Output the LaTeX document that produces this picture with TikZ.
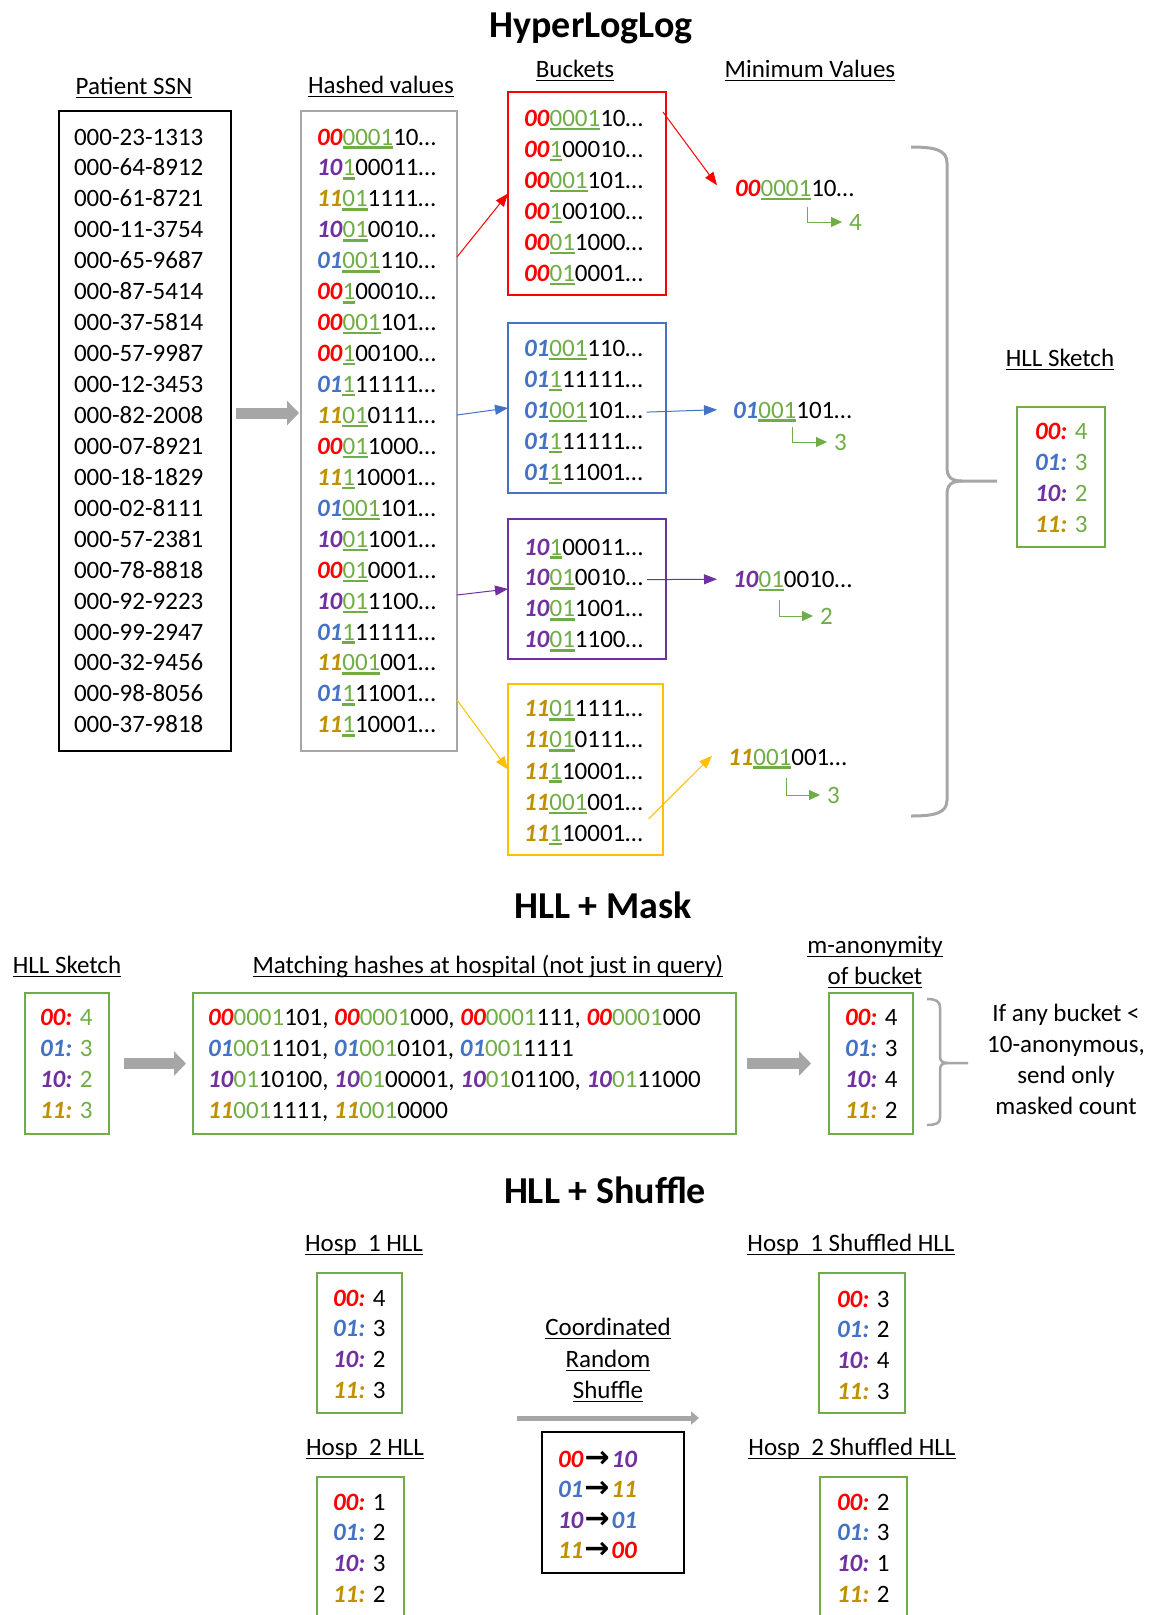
\documentclass[tikz,border=0pt]{standalone}
\usepackage{fontspec}
\setmainfont{Carlito}
\newfontfamily\symfont{DejaVu Sans}
\usetikzlibrary{arrows.meta,fit}

\definecolor{cR}{HTML}{FF0000}
\definecolor{cB}{HTML}{4472C4}
\definecolor{cP}{HTML}{7030A0}
\definecolor{cY}{HTML}{BF9000}
\definecolor{cG}{HTML}{70AD47}
\definecolor{cYbox}{HTML}{FFC000}
\definecolor{cGr}{HTML}{A6A6A6}

\newsavebox\ulbox
% underline: colour, rule thickness, rule depth, text
\newcommand\ulc[4]{\sbox\ulbox{#4}\rlap{\color{#1}\rule[-#3]{\wd\ulbox}{#2}}\usebox\ulbox}
\newcommand\hd[1]{\ulc{black}{1.6pt}{4.4pt}{#1}}
\newcommand\bits[2]{\textcolor{#1}{\textbf{\textit{#2}}}}
% hashed value: bucket colour, bucket bits, leading-zero run, rest
\newcommand\hval[4]{\bits{#1}{#2}\ulc{cG}{2.4pt}{3.8pt}{\textcolor{cG}{#3}}#4\ldots}
\newcommand\mval[4]{\bits{#1}{#2}\textcolor{cG}{#3}#4}
\newcommand\skrow[4]{\bits{#1}{#2:} \textcolor{#3}{#4}}
\newcommand\maprow[4]{\bits{#1}{#2}\kern1pt{\symfont\bfseries\fontsize{30}{30}\selectfont →}\kern2pt\bits{#3}{#4}}

\begin{document}
\begin{tikzpicture}[x=1pt,y=-1pt,
  every node/.style={font=\fontsize{25}{30}\selectfont, inner sep=0pt, outer sep=0pt},
  ttl/.style={anchor=base, font=\fontsize{38}{44}\selectfont\bfseries},
  hdr/.style={anchor=base},
  row/.style={anchor=base west},
  frame/.style={draw=#1, line width=2pt},
  arr/.style={draw=#1, line width=1pt, -{Triangle[length=13pt,width=10pt]}},
  garr/.style={draw=cG, line width=1pt, -{Triangle[length=11pt,width=10pt]}},
  blk/.style={draw=cGr, line width=11pt, -{Triangle[length=12pt,width=24pt]}},
  brc/.style={draw=cGr, line width=3pt},
  num/.style={anchor=west, inner xsep=7pt, text=cG}]

\useasboundingbox (0,0) rectangle (1150,1615);
\fill[white] (0,0) rectangle (1150,1615);

% ---------------- HyperLogLog ----------------
\node[ttl] (t1) at (591,37) {HyperLogLog};

\node[hdr] (hSSN) at (134,94) {\hd{Patient SSN}};
\node[hdr] (hHash) at (381,93) {\hd{Hashed values}};
\node[hdr] (hBk) at (575,77) {\hd{Buckets}};
\node[hdr] (hMin) at (810,77) {\hd{Minimum Values}};

\node[frame=black, fit={(59,111) (231,751)}] (ssn) {};
\foreach \s [count=\i from 0] in {000-23-1313,000-64-8912,000-61-8721,000-11-3754,
  000-65-9687,000-87-5414,000-37-5814,000-57-9987,000-12-3453,000-82-2008,
  000-07-8921,000-18-1829,000-02-8111,000-57-2381,000-78-8818,000-92-9223,
  000-99-2947,000-32-9456,000-98-8056,000-37-9818}
  \node[row] (s\i) at (74,{145+30.94*\i}) {\s};

\node[draw=cGr, line width=2.5pt, fit={(301,111) (457,751)}] (hash) {};
\foreach \cl/\pf/\gb/\rs [count=\i from 0] in {cR/00/0001/10, cP/10/1/00011,
  cY/11/01/1111, cP/10/01/0010, cB/01/001/110, cR/00/1/00010, cR/00/001/101,
  cR/00/1/00100, cB/01/1/11111, cY/11/01/0111, cR/00/01/1000, cY/11/1/10001,
  cB/01/001/101, cP/10/01/1001, cR/00/01/0001, cP/10/01/1100, cB/01/1/11111,
  cY/11/001/001, cB/01/1/11001, cY/11/1/10001}
  \node[row] (hv\i) at (317,{145+30.94*\i}) {\hval{\cl}{\pf}{\gb}{\rs}};

\draw[blk] ([xshift=5pt,yshift=18pt]ssn.east) -- ([xshift=-2pt,yshift=18pt]hash.west);

% buckets
\node[frame=cR, fit={(508,92) (666,295)}] (bR) {};
\foreach \pf/\gb/\rs [count=\i from 0] in {00/0001/10, 00/1/00010, 00/001/101,
  00/1/00100, 00/01/1000, 00/01/0001}
  \node[row] (br\i) at (524,{126.5+30.94*\i}) {\hval{cR}{\pf}{\gb}{\rs}};

\node[frame=cB, fit={(508,323) (666,493)}] (bB) {};
\foreach \pf/\gb/\rs [count=\i from 0] in {01/001/110, 01/1/11111, 01/001/101,
  01/1/11111, 01/1/11001}
  \node[row] (bb\i) at (524,{356.5+30.94*\i}) {\hval{cB}{\pf}{\gb}{\rs}};

\node[frame=cP, fit={(508,519) (666,659)}] (bP) {};
\foreach \pf/\gb/\rs [count=\i from 0] in {10/1/00011, 10/01/0010, 10/01/1001,
  10/01/1100}
  \node[row] (bp\i) at (524,{555+30.94*\i}) {\hval{cP}{\pf}{\gb}{\rs}};

\node[frame=cYbox, fit={(508,684) (663,855)}] (bY) {};
\foreach \pf/\gb/\rs [count=\i from 0] in {11/01/1111, 11/01/0111, 11/1/10001,
  11/001/001, 11/1/10001}
  \node[row] (by\i) at (524,{716.8+31.1*\i}) {\hval{cY}{\pf}{\gb}{\rs}};

\coordinate (aR) at (457,257);
\coordinate (aB) at (457,415);
\coordinate (aP) at (457,595);
\coordinate (aY) at (457,700);
\draw[arr=cR] (aR) -- (bR.west);
\draw[arr=cB] (aB) -- (bB.west);
\draw[arr=cP] (aP) -- (bP.west);
\draw[arr=cYbox] (aY) -- (bY.west);

% minimum values
\node[row] (mR) at (735,196.5) {\hval{cR}{00}{0001}{10}};
\node[row] (mB) at (733,418) {\hval{cB}{01}{001}{101}};
\node[row] (mP) at (733,587.5) {\hval{cP}{10}{01}{0010}};
\node[row] (mY) at (728,765) {\hval{cY}{11}{001}{001}};

\draw[arr=cR] ([xshift=-3pt,yshift=-20pt]bR.north east) -- ([xshift=-18pt,yshift=5pt]mR.west);
\draw[arr=cB] ([xshift=4pt]bb2.east) -- ([xshift=-16pt,yshift=2pt]mB.west);
\draw[arr=cP] ([xshift=4pt]bp1.east) -- ([xshift=-16pt,yshift=2pt]mP.west);
\draw[arr=cYbox] ([xshift=6pt,yshift=-15pt]by3.east) -- ([xshift=-16pt,yshift=3pt]mY.west);

\node[num] (nR) at (842,222) {4};
\node[num] (nB) at (827,442) {3};
\node[num] (nP) at (813,616) {2};
\node[num] (nY) at (820,795) {3};
\coordinate (lR) at (807,207);
\coordinate (lB) at (792,427);
\coordinate (lP) at (779,600);
\coordinate (lY) at (786,778);
\draw[garr] (lR) |- (nR.west);
\draw[garr] (lB) |- (nB.west);
\draw[garr] (lP) |- (nP.west);
\draw[garr] (lY) |- (nY.west);

% brace gathering the minimum values
\draw[brc] (911,147) .. controls (935,147) and (947,150) .. (947,163) -- (947,467)
  .. controls (947,476) and (950,481) .. (962,481) -- (997,481);
\draw[brc] (962,481) .. controls (950,481) and (947,486) .. (947,495) -- (947,800)
  .. controls (947,813) and (935,816) .. (911,816);

\node[hdr] (hSk) at (1060,366) {\hd{HLL Sketch}};
\node[frame=cG, fit={(1017,407) (1105,547)}] (sk) {};
\foreach \cl/\pf/\v [count=\i from 0] in {cR/00/4, cB/01/3, cP/10/2, cY/11/3}
  \node[row] (sk\i) at (1035,{439.5+30.94*\i}) {\skrow{\cl}{\pf}{cG}{\v}};

% ---------------- HLL + Mask ----------------
\node[ttl] (t2) at (603,918) {HLL + Mask};

\node[hdr] (hSk2) at (67,973) {\hd{HLL Sketch}};
\node[hdr] (hMatch) at (488,973) {\hd{Matching hashes at hospital (not just in query)}};
\node[hdr] (hMa) at (875,953) {\hd{m-anonymity}};
\node[hdr] (hMb) at (875,984) {\hd{of bucket}};

\node[frame=cG, fit={(25,993) (109,1134)}] (skm) {};
\foreach \cl/\pf/\v [count=\i from 0] in {cR/00/4, cB/01/3, cP/10/2, cY/11/3}
  \node[row] (skm\i) at (40,{1025.5+30.94*\i}) {\skrow{\cl}{\pf}{cG}{\v}};

\node[frame=cG, fit={(193,993) (736,1134)}] (mk) {};
\node[row] (mk0) at (208,1025.5) {\mval{cR}{00}{0001}{101}, \mval{cR}{00}{0001}{000}, \mval{cR}{00}{0001}{111}, \mval{cR}{00}{0001}{000}};
\node[row] (mk1) at (208,1056.4) {\mval{cB}{01}{001}{1101}, \mval{cB}{01}{001}{0101}, \mval{cB}{01}{001}{1111}};
\node[row] (mk2) at (208,1087.4) {\mval{cP}{10}{01}{10100}, \mval{cP}{10}{01}{00001}, \mval{cP}{10}{01}{01100}, \mval{cP}{10}{01}{11000}};
\node[row] (mk3) at (208,1118.3) {\mval{cY}{11}{001}{1111}, \mval{cY}{11}{001}{0000}};

\node[frame=cG, fit={(829,993) (913,1134)}] (ma) {};
\foreach \cl/\pf/\v [count=\i from 0] in {cR/00/4, cB/01/3, cP/10/4, cY/11/2}
  \node[row] (ma\i) at (845,{1025.5+30.94*\i}) {\skrow{\cl}{\pf}{black}{\v}};

\draw[blk] ([xshift=15pt]skm.east) -- ([xshift=-7pt]mk.west);
\draw[blk] ([xshift=11pt]mk.east) -- ([xshift=-18pt]ma.west);

\draw[brc, line width=2.5pt] (927,999) .. controls (936,999) and (940,1001) .. (940,1008) -- (940,1056)
  .. controls (940,1061) and (942,1063) .. (948,1063) -- (968,1063);
\draw[brc, line width=2.5pt] (948,1063) .. controls (942,1063) and (940,1065) .. (940,1070) -- (940,1118)
  .. controls (940,1123) and (936,1125) .. (927,1125);

\node[hdr] (q1) at (1066,1021) {If any bucket <};
\node[hdr] (q2) at (1066,1052) {10-anonymous,};
\node[hdr] (q3) at (1066,1083) {send only};
\node[hdr] (q4) at (1066,1114) {masked count};

% ---------------- HLL + Shuffle ----------------
\node[ttl] (t3) at (605,1203) {HLL + Shuffle};

\node[hdr] (hH1) at (364,1251) {\hd{Hosp\ \ 1 HLL}};
\node[hdr] (hH2) at (365,1455) {\hd{Hosp\ \ 2 HLL}};
\node[hdr] (hS1) at (851,1251) {\hd{Hosp\ \ 1 Shuffled HLL}};
\node[hdr] (hS2) at (852,1455) {\hd{Hosp\ \ 2 Shuffled HLL}};

\node[frame=cG, fit={(317,1273) (402,1413)}] (h1) {};
\foreach \cl/\pf/\v [count=\i from 0] in {cR/00/4, cB/01/3, cP/10/2, cY/11/3}
  \node[row] (h1r\i) at (333,{1306+30.94*\i}) {\skrow{\cl}{\pf}{black}{\v}};

\node[frame=cG, fit={(317,1477) (404,1640)}] (h2) {};
\foreach \cl/\pf/\v [count=\i from 0] in {cR/00/1, cB/01/2, cP/10/3, cY/11/2}
  \node[row] (h2r\i) at (333,{1510+30.94*\i}) {\skrow{\cl}{\pf}{black}{\v}};

\node[frame=cG, fit={(819,1273) (905,1413)}] (s1) {};
\foreach \cl/\pf/\v [count=\i from 0] in {cR/00/3, cB/01/2, cP/10/4, cY/11/3}
  \node[row] (s1r\i) at (837,{1307+30.94*\i}) {\skrow{\cl}{\pf}{black}{\v}};

\node[frame=cG, fit={(820,1477) (907,1640)}] (s2) {};
\foreach \cl/\pf/\v [count=\i from 0] in {cR/00/2, cB/01/3, cP/10/1, cY/11/2}
  \node[row] (s2r\i) at (837,{1510+30.94*\i}) {\skrow{\cl}{\pf}{black}{\v}};

\node[hdr] (c1) at (608,1335) {\hd{Coordinated}};
\node[hdr] (c2) at (608,1367) {\hd{Random}};
\node[hdr] (c3) at (608,1398) {\hd{Shuffle}};

\coordinate (shA) at (517,1418);
\coordinate (shB) at (699,1418);
\draw[draw=cGr, line width=5pt, -{Triangle[length=8pt,width=13pt]}] (shA) -- (shB);

\node[frame=black, fit={(542,1432) (684,1573)}] (sm) {};
\node[row] (sm0) at (558,1467) {\maprow{cR}{00}{cP}{10}};
\node[row] (sm1) at (558,1497.5) {\maprow{cB}{01}{cY}{11}};
\node[row] (sm2) at (558,1528) {\maprow{cP}{10}{cB}{01}};
\node[row] (sm3) at (558,1558.5) {\maprow{cY}{11}{cR}{00}};

\end{tikzpicture}
\end{document}
